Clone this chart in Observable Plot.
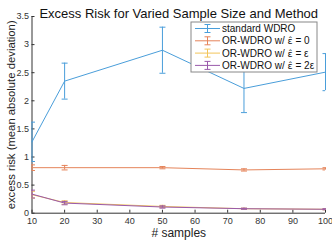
<!DOCTYPE html>
<html><head><meta charset="utf-8">
<script src="https://cdn.jsdelivr.net/npm/d3@7"></script>
<script src="https://cdn.jsdelivr.net/npm/@observablehq/plot@0.6"></script>
<style>body{margin:0;background:#fff}svg{display:block}</style>
</head><body><div id="chart"></div>
<script>
const samples = [10, 20, 50, 75, 100];
const seriesNames = ["standard WDRO", "OR-WDRO w/ \u03B5\u0302 = 0", "OR-WDRO w/ \u03B5\u0302 = \u03B5", "OR-WDRO w/ \u03B5\u0302 = 2\u03B5"];
const wdroMean = [1.27, 2.35, 2.90, 2.22, 2.51];
const wdroErr = [0.35, 0.32, 0.41, 0.43, 0.33];
const orZeroMean = [0.81, 0.81, 0.81, 0.77, 0.79];
const orZeroErr = [0.05, 0.04, 0.02, 0.02, 0.02];
const orEpsMean = [0.33, 0.19, 0.12, 0.08, 0.07];
const orEpsErr = [0.06, 0.03, 0.02, 0.01, 0.01];
const or2EpsMean = [0.34, 0.18, 0.11, 0.08, 0.07];
const or2EpsErr = [0.07, 0.03, 0.02, 0.01, 0.01];
const xTicks = [10, 20, 30, 40, 50, 60, 70, 80, 90, 100];
const yTicks = [0, 0.5, 1, 1.5, 2, 2.5, 3, 3.5];
const colors = ["#4a9eda", "#e5845a", "#f2c45a", "#9a5aaa"];

const means = [wdroMean, orZeroMean, orEpsMean, or2EpsMean];
const errs = [wdroErr, orZeroErr, orEpsErr, or2EpsErr];
const rows = seriesNames.flatMap((name, s) => samples.map((x, i) => ({
  name, x, y: means[s][i], lo: means[s][i] - errs[s][i], hi: means[s][i] + errs[s][i]
})));

const capSymbol = {draw(ctx) { ctx.moveTo(-3, 0); ctx.lineTo(3, 0); }};
const font = "'Liberation Sans', Arial, Helvetica, sans-serif";

const marks = [
  Plot.axisX({ticks: xTicks, tickSize: -3, tickPadding: 7, fontSize: 9, label: null, color: "#333"}),
  Plot.axisY({ticks: yTicks, tickSize: -3, tickPadding: 6, fontSize: 9, label: null, color: "#333", tickFormat: d => String(d)}),
  Plot.ruleX([10], {stroke: "#333"}),
  Plot.ruleY([0], {stroke: "#333"}),
];
seriesNames.forEach((name, s) => {
  const d = rows.filter(r => r.name === name);
  marks.push(
    Plot.line(d, {x: "x", y: "y", stroke: colors[s], strokeWidth: 1}),
    Plot.ruleX(d, {x: "x", y1: "lo", y2: "hi", stroke: colors[s], strokeWidth: 1}),
    Plot.dot(d, {x: "x", y: "lo", symbol: capSymbol, stroke: colors[s], fill: "none", strokeWidth: 1, clip: true}),
    Plot.dot(d, {x: "x", y: "hi", symbol: capSymbol, stroke: colors[s], fill: "none", strokeWidth: 1, clip: true})
  );
});
marks.push(
  Plot.text(["Excess Risk for Varied Sample Size and Method"], {frameAnchor: "top", dy: -7.5, fontSize: 13, fill: "#111"}),
  Plot.text(["# samples"], {frameAnchor: "bottom", dy: 24, fontSize: 12, fill: "#222"}),
  Plot.text(["excess risk (mean absolute deviation)"], {frameAnchor: "left", textAnchor: "middle", rotate: -90, dx: -21, fontSize: 11.3, fill: "#222"})
);

const chart = Plot.plot({
  width: 332, height: 244,
  marginLeft: 31.5, marginRight: 7, marginTop: 16, marginBottom: 31.3,
  style: {fontFamily: font, background: "#fff", overflow: "visible"},
  x: {domain: [10, 100]},
  y: {domain: [0, 3.5]},
  marks
});
document.getElementById("chart").appendChild(chart);

// legend
const svg = d3.select(chart);
const lg = svg.append("g").attr("font-family", font).attr("font-size", 10).attr("text-anchor", "start");
const bx = 191, by = 22, bw = 126, bh = 50;
lg.append("rect").attr("x", bx).attr("y", by).attr("width", bw).attr("height", bh)
  .attr("fill", "#fff").attr("stroke", "#888").attr("stroke-width", 1);
const hat = "\u03B5\u0302";
seriesNames.forEach((name, s) => {
  const cy = by + 6.5 + s * 12.3;
  const g = lg.append("g").attr("stroke", colors[s]).attr("stroke-width", 1);
  g.append("line").attr("x1", bx + 4).attr("x2", bx + 29).attr("y1", cy).attr("y2", cy);
  g.append("line").attr("x1", bx + 16.5).attr("x2", bx + 16.5).attr("y1", cy - 4).attr("y2", cy + 4);
  g.append("line").attr("x1", bx + 13.5).attr("x2", bx + 19.5).attr("y1", cy - 4).attr("y2", cy - 4);
  g.append("line").attr("x1", bx + 13.5).attr("x2", bx + 19.5).attr("y1", cy + 4).attr("y2", cy + 4);
  const t = lg.append("text").attr("x", bx + 31).attr("y", cy).attr("dy", "0.35em").attr("fill", "#111");
  const parts = name.split(hat);
  parts.forEach((p, k) => {
    if (k > 0) t.append("tspan").attr("font-family", "'DejaVu Sans'").attr("font-size", 9.5).text(hat);
    t.append("tspan").text(p);
  });
});
</script></body></html>
